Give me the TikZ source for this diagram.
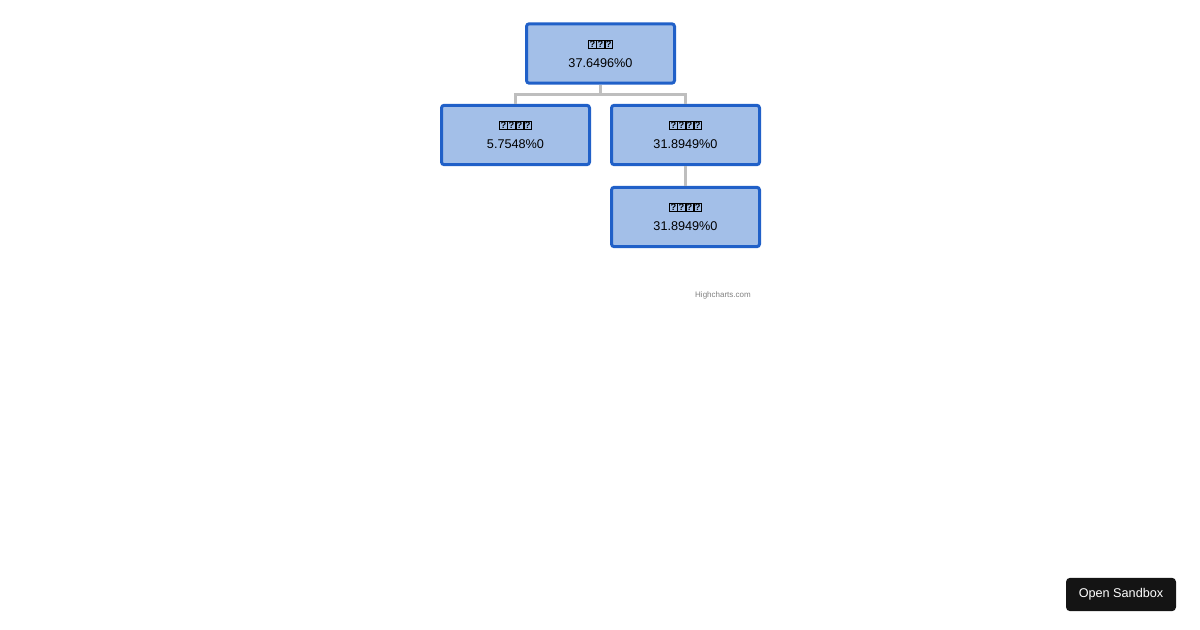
\documentclass[tikz,border=0pt]{standalone}
\usepackage{fontspec}
\setmainfont{Liberation Sans}
\usetikzlibrary{positioning}
\definecolor{boxfill}{RGB}{163,191,232}
\definecolor{boxline}{RGB}{32,96,200}
\definecolor{linkgray}{RGB}{190,190,190}
\newcommand{\tofu}{{\setlength{\fboxsep}{0.3pt}\setlength{\fboxrule}{0.6pt}\fbox{\fontsize{7}{7}\selectfont ?}}}
\tikzset{
  orgbox/.style={draw=boxline,fill=boxfill,line width=2.25pt,rounded corners=2pt,
    minimum width=111pt,minimum height=44.5pt,align=center,inner sep=0pt,font=\fontsize{9.5}{15}\selectfont},
  link/.style={draw=linkgray,line width=2.25pt}
}
\begin{document}
\begin{tikzpicture}[x=0.75pt,y=0.75pt,yscale=-1,xscale=1]
\useasboundingbox (0,0) rectangle (1200,630);

% Nodes
\node[orgbox] (root) at (600.5,53.5) {{\bfseries\tofu\tofu\tofu}\\37.6496\%0};
\node[orgbox] (left) at (515.5,135) {{\bfseries\tofu\tofu\tofu\tofu}\\5.7548\%0};
\node[orgbox] (right) at (685.5,135) {{\bfseries\tofu\tofu\tofu\tofu}\\31.8949\%0};
\node[orgbox] (leaf) at (685.5,217) {{\bfseries\tofu\tofu\tofu\tofu}\\31.8949\%0};

% Links
\coordinate (fork) at (600.5,95);
\draw[link] (root.south) -- (fork) -| (left.north);
\draw[link] (fork) -| (right.north);
\draw[link] (right.south) -- (leaf.north);

% Credits and button
\node[text=gray,font=\fontsize{6}{6}\selectfont] (credit) at (723,295) {Highcharts.com};
\node[fill=black!92,rounded corners=3pt,minimum width=82.5pt,minimum height=25pt,
  text=white,font=\fontsize{9.5}{10}\selectfont] (sandbox) at (1121,594.5) {Open Sandbox};
\end{tikzpicture}
\end{document}
